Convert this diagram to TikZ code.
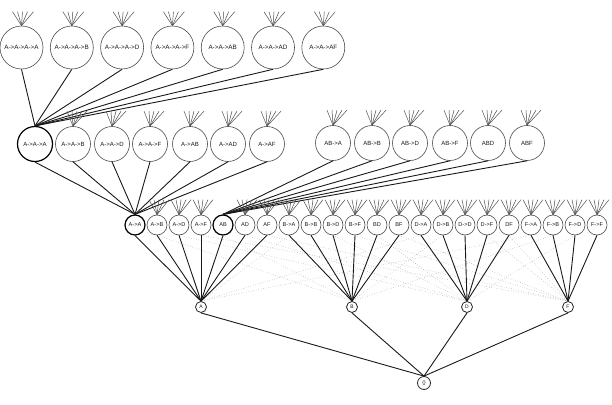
\documentclass[tikz,border=0pt]{standalone}
\usepackage{fontspec}
\setmainfont{Liberation Sans}
\newcommand\fanlines[3]{\foreach \dx in {#3} \draw[fanl] (#1.north) -- ++(\dx,-#2);}
\begin{document}
\begin{tikzpicture}[x=1pt,y=-1pt,
 nd/.style={circle,draw=black!70,line width=0.6pt,inner sep=0pt,text=black!90,fill=white},
 n4/.style={nd,minimum size=43pt,font=\fontsize{6.3}{7}\selectfont},
 n3/.style={nd,minimum size=35pt,font=\fontsize{6}{7}\selectfont},
 n2/.style={nd,minimum size=20pt,font=\fontsize{5.6}{6}\selectfont},
 n1/.style={nd,draw=black!85,line width=0.8pt,minimum size=11pt,font=\fontsize{5}{5}\selectfont},
 hl/.style={draw=black,line width=1.2pt},
 edge/.style={draw=black!90,line width=0.9pt},
 dot/.style={draw=black!35,dotted,line width=0.5pt},
 fanl/.style={draw=black!70,line width=0.5pt}]
\useasboundingbox (0,0) rectangle (612,404);
% level 4
\foreach \lab [count=\i] in {A->A->A->A, A->A->A->B, A->A->A->D, A->A->A->F, A->A->AB, A->A->AD, A->A->AF}
  \node[n4] (t\i) at ({21.5+50.3*(\i-1)}, 47.5) {\lab};
% level 3 (A->A children)
\node[n3,hl] (s1) at (35,144) {A->A->A};
\foreach \x/\lab [count=\i from 2] in {73/A->A->B, 112/A->A->D, 150/A->A->F, 190/A->AB, 228/A->AD, 267/A->AF}
  \node[n3] (s\i) at (\x,144) {\lab};
% level 3 (AB children)
\foreach \x/\lab [count=\i] in {333/AB->A, 372/AB->B, 410/AB->D, 450/AB->F, 488/ABD, 527/ABF}
  \node[n3] (b\i) at (\x,143) {\lab};
% level 2
\foreach \lab/\st [count=\i from 0] in {A->A/hl, A->B/n2, A->D/n2, A->F/n2, AB/hl, AD/n2, AF/n2,
  B->A/n2, B->B/n2, B->D/n2, B->F/n2, BD/n2, BF/n2, D->A/n2, D->B/n2, D->D/n2, D->F/n2, DF/n2,
  F->A/n2, F->B/n2, F->D/n2, F->F/n2}
  \node[n2,\st] (m\i) at ({135+22*\i},225) {\lab};
% level 1 and root
\node[n1] (A) at (201,307) {A};
\node[n1] (B) at (352,307) {B};
\node[n1] (D) at (467,307) {D};
\node[n1] (F) at (568,307) {F};
\node[n1,minimum size=13pt] (root) at (424,383) {\{\}};
% dotted cross links
\foreach \i/\p in {1/B,2/D,3/F,4/B,5/D,6/F,7/A,9/D,10/F,11/D,12/F,13/A,14/B,16/F,17/F,18/A,19/B,20/D}
  \draw[dot] (m\i.south) -- (\p.north);
% solid edges
\foreach \i in {1,...,7} \draw[edge] (t\i.south) -- (s1.north);
\foreach \i in {1,...,7} \draw[edge] (s\i.south) -- (m0.north);
\foreach \i in {1,...,6} \draw[edge] (b\i.south) -- (m4.north);
\foreach \i in {0,...,6} \draw[edge] (m\i.south) -- (A.north);
\foreach \i in {7,...,12} \draw[edge] (m\i.south) -- (B.north);
\foreach \i in {13,...,17} \draw[edge] (m\i.south) -- (D.north);
\foreach \i in {18,...,21} \draw[edge] (m\i.south) -- (F.north);
\foreach \p in {A,B,D,F} \draw[edge] (\p.south) -- (root.north);
% fans
\foreach \i in {1,...,7} {\fanlines{t\i}{14}{-9,-4,1,6,12}}
\foreach \i in {2,...,7} {\fanlines{s\i}{15}{-6,-1,4,9,14}}
\foreach \i in {1,...,6} {\fanlines{b\i}{15}{-6,-1,4,9,14}}
\foreach \i in {1,2,3,5,6,7,8,9,10,11,12,13,14,15,16,17,18,19,20,21} {\fanlines{m\i}{15}{-8,-3,2,7,12}}
\end{tikzpicture}
\end{document}
